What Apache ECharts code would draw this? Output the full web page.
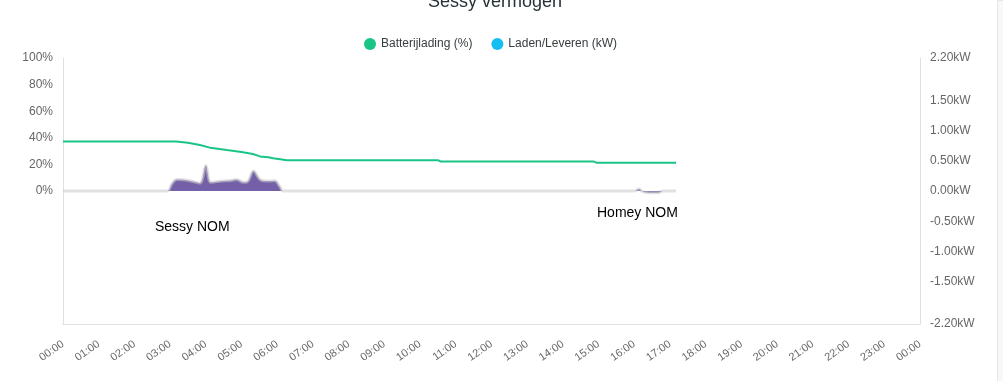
<!DOCTYPE html>
<html>
<head>
<meta charset="utf-8">
<script src="https://cdn.jsdelivr.net/npm/echarts@6/dist/echarts.min.js"></script>
<style>
html,body{margin:0;padding:0;background:#fff;}
#c{width:1003px;height:381px;}
</style>
</head>
<body>
<div id="c"></div>
<script>
// ---- data ----
var hourLabels = ["00:00","01:00","02:00","03:00","04:00","05:00","06:00","07:00","08:00","09:00","10:00","11:00","12:00","13:00","14:00","15:00","16:00","17:00","18:00","19:00","20:00","21:00","22:00","23:00","00:00"];

var socTimes = ["00:00","03:10","03:30","03:50","04:07","04:20","04:35","05:00","05:19","05:31","05:45","05:53","06:05","06:16","10:30","10:35","14:52","14:57","17:10"];
var socValues = [37.3, 37.3, 36.2, 34.6, 32.6, 31.8, 30.8, 29.4, 27.8, 26.0, 25.4, 24.6, 23.9, 23.2, 23.2, 22.1, 22.1, 21.2, 21.2];

var powerTimes = ["00:00","02:55","03:03","03:11","03:22","03:35","03:50","04:00","04:08","04:18","04:29","04:42","04:52","05:03","05:10","05:20","05:30","05:36","05:48","05:56","06:04","06:10","16:00","16:08","16:14","16:25","16:40","16:48","17:10"];
var powerValues = [0, 0, 0.12, 0.19, 0.185, 0.165, 0.13, 0.42, 0.145, 0.155, 0.165, 0.175, 0.19, 0.145, 0.155, 0.33, 0.20, 0.17, 0.165, 0.17, 0.08, 0, 0, 0.035, -0.01, -0.03, -0.03, 0, 0];

var rightAxisValues = [-2.2, -1.5, -1.0, -0.5, 0, 0.5, 1.0, 1.5, 2.2];

function toHours(t){ var p = t.split(":"); return (+p[0]) + (+p[1]) / 60; }
function pairs(times, vals){ return times.map(function(t, i){ return [toHours(t), vals[i]]; }); }

var chart = echarts.init(document.getElementById('c'), null, {renderer:'canvas'});
var font = 'Arial, "Liberation Sans", Helvetica, sans-serif';
chart.setOption({
  animation:false,
  textStyle:{fontFamily:font},
  title:{
    text:'Sessy vermogen', left:490, textAlign:'center', top:-12,
    textStyle:{fontSize:18, fontWeight:'normal', color:'#263238', fontFamily:font}
  },
  legend:{
    top:33, left:359, icon:'circle', itemWidth:12, itemHeight:12, itemGap:19, itemTextGap:4,
    textStyle:{fontSize:12, color:'#373d3f', fontFamily:font},
    data:[
      {name:'Batterijlading (%)', itemStyle:{color:'#19c586'}},
      {name:'Laden/Leveren (kW)', itemStyle:{color:'#16bdf0'}}
    ]
  },
  grid:{left:63, right:83, top:58, bottom:57, containLabel:false},
  xAxis:{
    type:'value', min:0, max:24, interval:1,
    axisLine:{show:true, onZero:false, lineStyle:{color:'#e0e0e0'}},
    axisTick:{show:false},
    splitLine:{show:false},
    axisLabel:{
      rotate:35, margin:19, fontSize:11, color:'#666', fontFamily:font,
      formatter:function(v){ return hourLabels[Math.round(v)]; }
    }
  },
  yAxis:[
    {
      type:'value', min:-100, max:100, interval:20, position:'left',
      axisLine:{show:true, lineStyle:{color:'#e0e0e0'}},
      axisTick:{show:false}, splitLine:{show:false},
      axisLabel:{fontSize:12, color:'#666', margin:10, fontFamily:font,
        formatter:function(v){ return v >= 0 ? v + '%' : ''; }}
    },
    {
      type:'value', min:-2.2, max:2.2, position:'right',
      axisLine:{show:true, lineStyle:{color:'#e0e0e0'}},
      axisTick:{show:false}, splitLine:{show:false},
      axisLabel:{fontSize:12, color:'#666', margin:10, fontFamily:font,
        customValues:rightAxisValues,
        formatter:function(v){ return v.toFixed(2) + 'kW'; }}
    }
  ],
  series:[
    {
      name:'Laden/Leveren (kW)', type:'line', yAxisIndex:1, smooth:0.35,
      showSymbol:false, symbol:'none',
      itemStyle:{color:'#16bdf0'},
      lineStyle:{color:'rgba(200,200,200,0.55)', width:3},
      areaStyle:{color:'#7460a8', opacity:1},
      data:pairs(powerTimes, powerValues), z:2
    },
    {
      name:'Batterijlading (%)', type:'line', yAxisIndex:0, smooth:false,
      showSymbol:false, symbol:'none',
      itemStyle:{color:'#19c586'},
      lineStyle:{color:'#19c586', width:2},
      data:pairs(socTimes, socValues), z:3
    }
  ],
  graphic:[
    {type:'text', left:155, top:220, style:{text:'Sessy NOM', fill:'#000', font:'14px ' + font}},
    {type:'text', left:597, top:206, style:{text:'Homey NOM', fill:'#000', font:'14px ' + font}},
    {type:'rect', left:997, top:0, shape:{width:6, height:381}, style:{fill:'#f8f8f8', stroke:'#e6e6e6', lineWidth:1}}
  ]
});
</script>
</body>
</html>
